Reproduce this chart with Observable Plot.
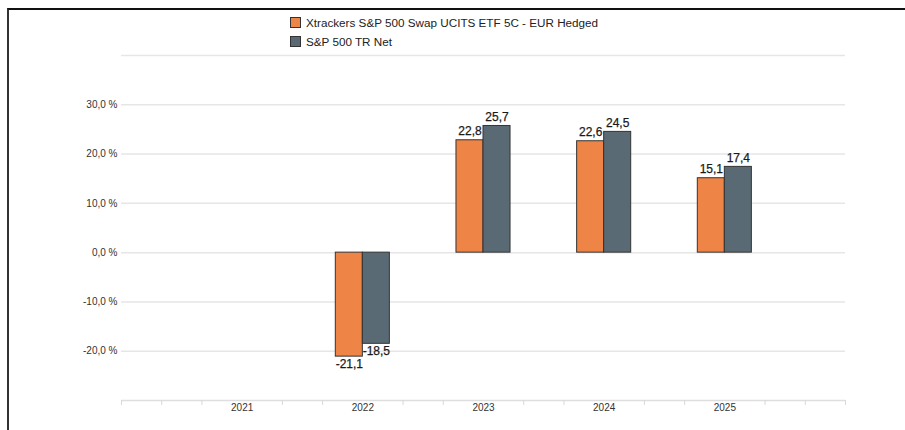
<!DOCTYPE html>
<html>
<head>
<meta charset="utf-8">
<script src="https://cdn.jsdelivr.net/npm/d3@7"></script>
<script src="https://cdn.jsdelivr.net/npm/@observablehq/plot@0.6"></script>
<style>
  html, body { margin: 0; padding: 0; background: #fff; }
  body { width: 905px; height: 430px; position: relative; overflow: hidden; font-family: Arial, "Liberation Sans", sans-serif; }
  #frame { position: absolute; left: 7px; top: 8px; width: 905px; height: 430px; border-left: 2px solid #333; border-top: 2px solid #111; box-sizing: border-box; pointer-events: none; }
  #legend { position: absolute; left: 290px; top: 13px; font-size: 11.7px; color: #222; line-height: 19px; }
  #legend .row { display: flex; align-items: center; white-space: nowrap; }
  #legend .sw { width: 9px; height: 9px; border: 1px solid #333; margin-right: 5px; }
  #chart { position: absolute; left: 0; top: 0; }
</style>
</head>
<body>
<div id="chart"></div>
<div id="legend"></div>
<div id="frame"></div>
<script>
const years = [2021, 2022, 2023, 2024, 2025];
const fundReturns = [null, -21.1, 22.8, 22.6, 15.1];
const indexReturns = [null, -18.5, 25.7, 24.5, 17.4];
const seriesNames = ["Xtrackers S&P 500 Swap UCITS ETF 5C - EUR Hedged", "S&P 500 TR Net"];
const seriesColors = ["#EF8447", "#5A6A75"];
const yTickValues = [-20, -10, 0, 10, 20, 30];
const gridValues = [-20, -10, 0, 10, 20, 30, 40];

const barW = 0.224;
const rows = [];
years.forEach((yr, i) => {
  [fundReturns[i], indexReturns[i]].forEach((v, s) => {
    if (v == null) return;
    rows.push({
      year: yr, series: seriesNames[s], value: v,
      x1: s === 0 ? yr - barW : yr,
      x2: s === 0 ? yr : yr + barW,
      xc: s === 0 ? yr - barW / 2 : yr + barW / 2
    });
  });
});

const minorTicks = d3.range(0, 19).map(k => 2020 + k / 3).filter(t => !years.some(y => Math.abs(y - t) < 1e-6));
const fmt = v => v.toFixed(1).replace(".", ",");

const chart = Plot.plot({
  width: 905,
  height: 430,
  marginLeft: 121,
  marginRight: 60,
  marginTop: 55,
  marginBottom: 30,
  style: { fontFamily: "Arial, 'Liberation Sans', sans-serif", background: "transparent" },
  x: { domain: [2020, 2026] },
  y: { domain: [-30, 40] },
  color: { domain: seriesNames, range: seriesColors },
  marks: [
    Plot.ruleY(gridValues, { stroke: "#e6e6e6", strokeWidth: 1.5 }),
    Plot.ruleY([-30], { stroke: "#dedede", strokeWidth: 1.5 }),
    Plot.axisX({ ticks: minorTicks, tickSize: 5, stroke: "#d8d8d8", tickFormat: () => "" }),
    Plot.axisX({ ticks: years, tickSize: 0, tickPadding: 3, tickFormat: d => String(d), fontSize: 10, fill: "#333", label: null }),
    Plot.axisY({ ticks: yTickValues, tickSize: 0, tickPadding: 4, tickFormat: d => fmt(d) + " %", fontSize: 10, fill: "#333", label: null }),
    Plot.rectY(rows, { x1: "x1", x2: "x2", y1: 0, y2: "value", fill: "series", stroke: "#333", strokeWidth: 1 }),
    Plot.text(rows.filter(d => d.value >= 0), { x: "xc", y: "value", text: d => fmt(d.value), lineAnchor: "bottom", dy: -5, fontSize: 12, fill: "#1a1a1a", stroke: "#1a1a1a", strokeWidth: 0.25 }),
    Plot.text(rows.filter(d => d.value < 0), { x: "xc", y: "value", text: d => fmt(d.value), lineAnchor: "top", dy: 3, fontSize: 12, fill: "#1a1a1a", stroke: "#1a1a1a", strokeWidth: 0.25 })
  ]
});
document.getElementById("chart").appendChild(chart);

const legend = document.getElementById("legend");
seriesNames.forEach((name, i) => {
  const row = document.createElement("div");
  row.className = "row";
  const sw = document.createElement("span");
  sw.className = "sw";
  sw.style.background = seriesColors[i];
  const label = document.createElement("span");
  label.textContent = name;
  row.appendChild(sw);
  row.appendChild(label);
  legend.appendChild(row);
});
</script>
</body>
</html>
